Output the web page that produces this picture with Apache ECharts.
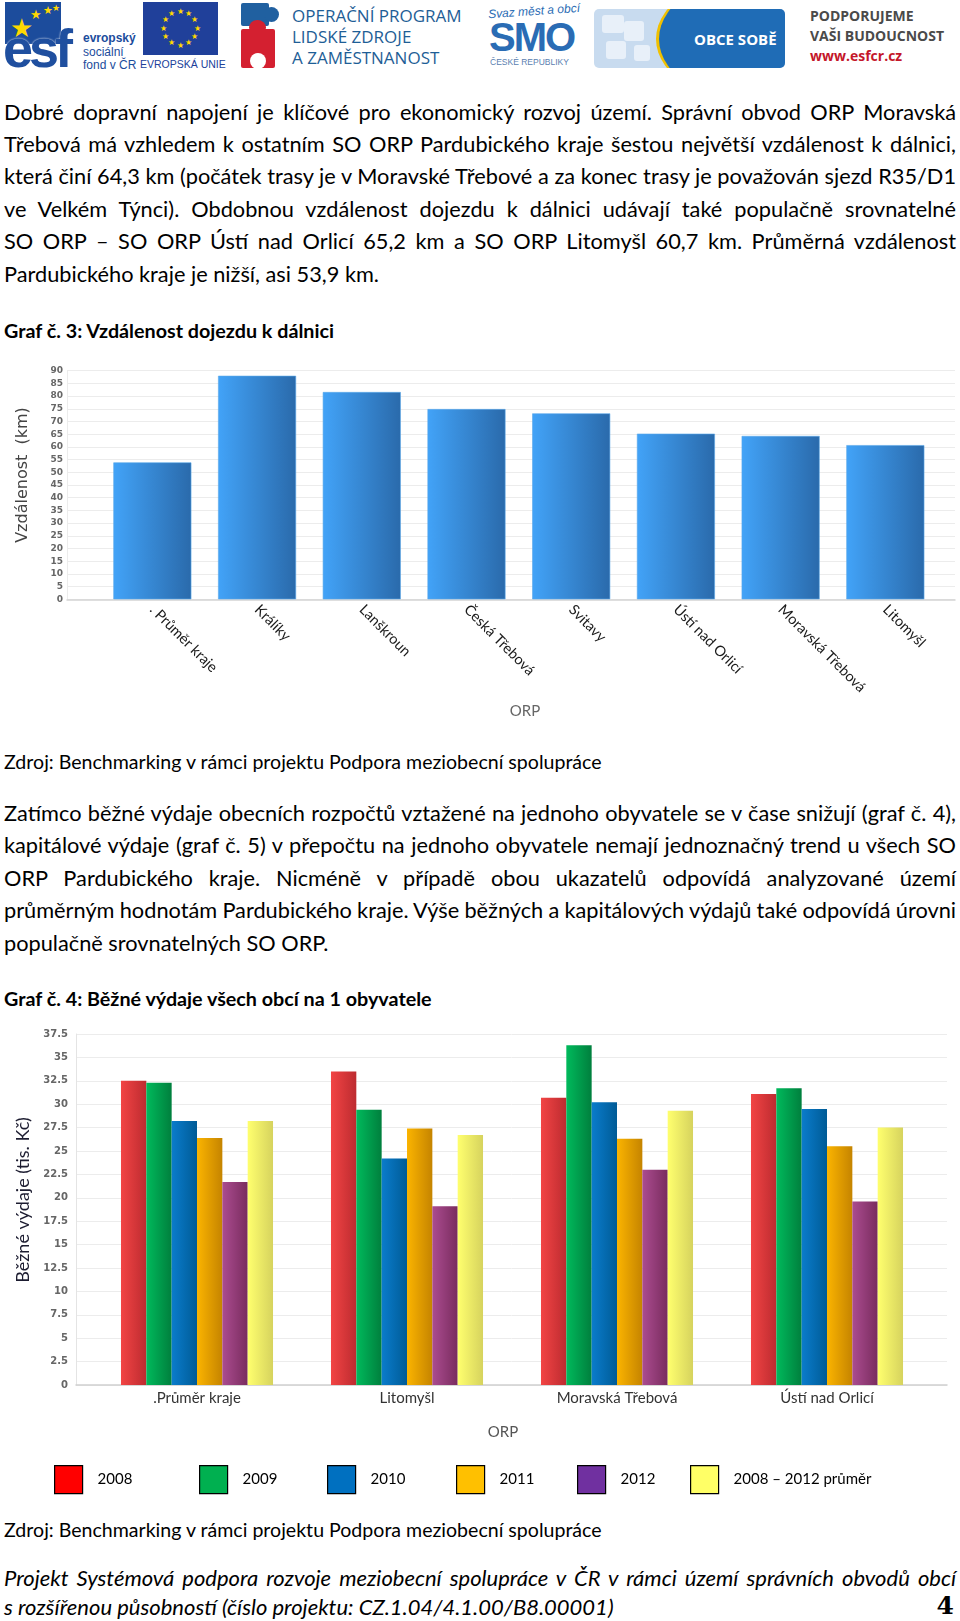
<!DOCTYPE html>
<html><head><meta charset="utf-8">
<script src="https://cdn.jsdelivr.net/npm/echarts@6/dist/echarts.min.js"></script>
<style>
html,body{margin:0;padding:0;background:#fff;}
body{width:960px;height:1621px;position:relative;overflow:hidden;font-family:Lato,"Open Sans",sans-serif;color:#000;}
.a{position:absolute;white-space:nowrap;}
.ln{position:absolute;left:4px;width:952px;height:26px;line-height:26px;white-space:nowrap;font-size:18px;}
.ln span{white-space:nowrap;}
.b{font-weight:bold;}
.it{font-style:italic;}
.star{position:absolute;color:#ffd800;line-height:1;}
</style></head>
<body>
<!-- header logos -->
<div id="hdr">
  <div class="a" style="left:5px;top:2px;width:56px;height:42px;background:#1c4c9c;"></div>
  <div class="star" style="left:10px;top:14px;font-size:26px;">★</div>
  <div class="star" style="left:30px;top:8px;font-size:13px;">★</div>
  <div class="star" style="left:43px;top:4px;font-size:11px;">★</div>
  <div class="star" style="left:52px;top:3px;font-size:9px;">★</div>
  <div class="a" style="left:3px;top:17px;font:bold 54px 'Liberation Sans',Arial,sans-serif;color:#1f4f9f;letter-spacing:-4px;text-shadow:0 0 2px #fff;">esf</div>
  <div class="a" style="left:83px;top:31px;font:bold 12px 'Liberation Sans',sans-serif;color:#1c4c9c;">evropský</div>
  <div class="a" style="left:83px;top:45px;font:12px 'Liberation Sans',sans-serif;color:#1c4c9c;">sociální</div>
  <div class="a" style="left:83px;top:58px;font:12px 'Liberation Sans',sans-serif;color:#1c4c9c;">fond v ČR</div>

  <div class="a" id="euflag" style="left:143px;top:2px;width:75px;height:53px;background:#20409a;"></div>
  <div class="a" style="left:140px;top:58px;width:82px;text-align:center;font:10.5px 'Liberation Sans',sans-serif;color:#20409a;">EVROPSKÁ UNIE</div>

  <div class="a" style="left:241px;top:3px;width:28px;height:23px;background:#2060a0;border-radius:2px;"></div>
  <div class="a" style="left:264px;top:7px;width:15px;height:15px;background:#2060a0;border-radius:50%;"></div>
  <div class="a" style="left:249px;top:20px;width:17px;height:15px;background:#d42030;border-radius:50%;"></div>
  <div class="a" style="left:241px;top:29px;width:34px;height:39px;background:#d42030;border-radius:2px;"></div>
  <div class="a" style="left:250px;top:53px;width:16px;height:16px;background:#fff;border-radius:50%;"></div>
  <div class="a" style="left:292px;top:5px;font:17px 'Open Sans',sans-serif;color:#1e5e96;line-height:21px;">OPERAČNÍ PROGRAM<br>LIDSKÉ ZDROJE<br>A ZAMĚSTNANOST</div>

  <div class="a" style="left:488px;top:4px;font:italic 12px 'Liberation Sans',sans-serif;color:#2a6cb4;transform:rotate(-4deg);">Svaz měst a obcí</div>
  <div class="a" style="left:489px;top:15px;font:900 40px 'Liberation Sans',sans-serif;color:#2a6cb4;letter-spacing:-2px;line-height:44px;">SMO</div>
  <div class="a" style="left:490px;top:57px;font:8.5px 'Liberation Sans',sans-serif;color:#5a80b0;">ČESKÉ REPUBLIKY</div>

  <div class="a" style="left:594px;top:9px;width:191px;height:59px;border-radius:5px;background:#c8dbef;overflow:hidden;">
    <div style="position:absolute;left:8px;top:6px;width:22px;height:18px;background:#e8f0f9;border-radius:3px;"></div>
    <div style="position:absolute;left:30px;top:12px;width:20px;height:20px;background:#e8f0f9;border-radius:3px;"></div>
    <div style="position:absolute;left:12px;top:32px;width:20px;height:18px;background:#e8f0f9;border-radius:3px;"></div>
    <div style="position:absolute;left:40px;top:36px;width:16px;height:16px;background:#e8f0f9;border-radius:3px;"></div>
    <div style="position:absolute;left:62px;top:-40px;width:240px;height:140px;border-radius:50%;background:#1f6cb6;border-left:3px solid #f0c000;"></div>
    <div style="position:absolute;left:100px;top:20px;font:bold 15px 'Open Sans',sans-serif;color:#fff;">OBCE SOBĚ</div>
  </div>

  <div class="a" style="left:810px;top:6px;font:bold 14px 'Open Sans',sans-serif;color:#4a4a4a;line-height:20px;">PODPORUJEME<br>VAŠI BUDOUCNOST<br><span style="color:#c4162a;">www.esfcr.cz</span></div>
</div>

<div id="txt"></div>
<div id="c1" style="position:absolute;left:0;top:345px;width:960px;height:385px;"></div>
<div id="c2" style="position:absolute;left:0;top:990px;width:960px;height:520px;"></div>

<script>
// ---------- data ----------
const cat1 = ['. Průměr kraje','Králíky','Lanškroun','Česká Třebová','Svitavy','Ústí nad Orlicí','Moravská Třebová','Litomyšl'];
const dist1 = [53.9, 88.0, 81.6, 74.9, 73.2, 65.2, 64.3, 60.7];
const y1Min = 0, y1Max = 90, y1Step = 5;

const cat2 = ['.Průměr kraje','Litomyšl','Moravská Třebová','Ústí nad Orlicí'];
const seriesNames2 = ['2008','2009','2010','2011','2012','2008 – 2012 průměr'];
const v2008 = [32.5, 33.5, 30.7, 31.1];
const v2009 = [32.3, 29.4, 36.3, 31.7];
const v2010 = [28.2, 24.2, 30.2, 29.5];
const v2011 = [26.4, 27.4, 26.3, 25.5];
const v2012 = [21.7, 19.1, 23.0, 19.6];
const vAvg  = [28.2, 26.7, 29.3, 27.5];
const y2Min = 0, y2Max = 37.5, y2Step = 2.5;

// ---------- text ----------
const para1 = [
 'Dobré dopravní napojení je klíčové pro ekonomický rozvoj území. Správní obvod ORP Moravská',
 'Třebová má vzhledem k ostatním SO ORP Pardubického kraje šestou největší vzdálenost k dálnici,',
 'která činí 64,3 km (počátek trasy je v Moravské Třebové a za konec trasy je považován sjezd R35/D1',
 've Velkém Týnci). Obdobnou vzdálenost dojezdu k dálnici udávají také populačně srovnatelné',
 'SO ORP – SO ORP Ústí nad Orlicí 65,2 km a SO ORP Litomyšl 60,7 km. Průměrná vzdálenost',
 'Pardubického kraje je nižší, asi 53,9 km.'
];
const para2 = [
 'Zatímco běžné výdaje obecních rozpočtů vztažené na jednoho obyvatele se v čase snižují (graf č. 4),',
 'kapitálové výdaje (graf č. 5) v přepočtu na jednoho obyvatele nemají jednoznačný trend u všech SO',
 'ORP Pardubického kraje. Nicméně v případě obou ukazatelů odpovídá analyzované území',
 'průměrným hodnotám Pardubického kraje. Výše běžných a kapitálových výdajů také odpovídá úrovni',
 'populačně srovnatelných SO ORP.'
];
const src = 'Zdroj: Benchmarking v rámci projektu Podpora meziobecní spolupráce';
const title3 = 'Graf č. 3: Vzdálenost dojezdu k dálnici';
const title4 = 'Graf č. 4: Běžné výdaje všech obcí na 1 obyvatele';
const foot1 = 'Projekt Systémová podpora rozvoje meziobecní spolupráce v ČR v rámci území správních obvodů obcí';
const foot2 = 's rozšířenou působností (číslo projektu: CZ.1.04/4.1.00/B8.00001)';

const txt = document.getElementById('txt');
function addLine(text, cy, cls, just){
  const d = document.createElement('div');
  d.className = 'ln ' + (cls||'') + (just ? ' j' : '');
  d.style.top = (cy - 13) + 'px';
  const s = document.createElement('span');
  s.textContent = text;
  d.appendChild(s);
  txt.appendChild(d);
  return d;
}
para1.forEach((t,i)=>addLine(t, 111.5 + i*32.45, 'body', i < para1.length-1));
const t3 = addLine(title3, 330.7, 'ttl b', false);
const s1 = addLine(src, 761.6, 'src', false);
para2.forEach((t,i)=>addLine(t, 813 + i*32.4, 'body', i < para2.length-1));
addLine(title4, 999.3, 'ttl b', false);
addLine(src, 1530, 'src', false);
addLine(foot1, 1578, 'foot it', true);
const f2 = addLine(foot2, 1607, 'foot it', false);
const pg = document.createElement('div');
pg.className='a'; pg.textContent='4';
pg.style.cssText='position:absolute;right:6px;top:1591px;font:bold 25px "DejaVu Serif","Liberation Serif",serif;';
txt.appendChild(pg);

// EU flag stars
const flag = document.getElementById('euflag');
for(let k=0;k<12;k++){
  const a = k*Math.PI/6;
  const st = document.createElement('div');
  st.className='star'; st.textContent='★'; st.style.fontSize='8px';
  st.style.left = (37.5 + 17*Math.sin(a) - 4) + 'px';
  st.style.top = (26 - 17*Math.cos(a) - 4.5) + 'px';
  flag.appendChild(st);
}

function fitClass(cls, refSpan, target){
  document.querySelectorAll('.'+cls).forEach(e=>e.style.fontSize = '18px');
  const w = refSpan.getBoundingClientRect().width;
  const nfs = 18*target/w;
  document.querySelectorAll('.'+cls).forEach(e=>e.style.fontSize = nfs+'px');
}
function layoutText(){
  const lines = txt.querySelectorAll('.ln.body');
  fitClass('body', lines[5].querySelector('span'), 375);
  fitClass('ttl', t3.querySelector('span'), 330);
  fitClass('src', s1.querySelector('span'), 598);
  fitClass('foot', f2.querySelector('span'), 610);
  txt.querySelectorAll('.j').forEach(el=>{
    const s = el.querySelector('span');
    s.style.wordSpacing = '0px';
    const nat = s.getBoundingClientRect().width;
    const n = (s.textContent.match(/[ \u00a0]/g)||[]).length;
    if(n) s.style.wordSpacing = ((952 - nat)/n) + 'px';
  });
}
layoutText();
if (document.fonts && document.fonts.ready) document.fonts.ready.then(layoutText);

// ---------- chart 1 ----------
const c1 = echarts.init(document.getElementById('c1'), null, {renderer:'canvas'});
const blueGrad = new echarts.graphic.LinearGradient(0,0,1,0,[{offset:0,color:'#42a3f8'},{offset:1,color:'#2a6aab'}]);
c1.setOption({
  animation:false,
  grid:[{left:67,right:5,top:25.7,height:228.6},{left:100,right:22.3,top:25.7,height:228.6}],
  xAxis:[
    {type:'value',gridIndex:0,min:0,max:1,axisLine:{show:true,lineStyle:{color:'#d4d4d4',width:1.5}},axisTick:{show:false},axisLabel:{show:false},splitLine:{show:false}},
    {type:'category',gridIndex:1,data:cat1,axisLine:{show:false},axisTick:{show:false},
     axisLabel:{rotate:-45,margin:8,fontSize:14.5,fontFamily:'Lato',color:'#1a1a1a',interval:0}}
  ],
  yAxis:[
    {type:'value',gridIndex:0,min:y1Min,max:y1Max,interval:y1Step,
     axisLine:{show:true,lineStyle:{color:'#ececec'}},axisTick:{show:false},
     axisLabel:{fontSize:9,fontWeight:'bold',color:'#666',fontFamily:'DejaVu Sans',margin:4},
     splitLine:{lineStyle:{color:'#ececec'}}},
    {type:'value',gridIndex:1,min:y1Min,max:y1Max,interval:y1Step,show:false}
  ],
  series:[{type:'bar',xAxisIndex:1,yAxisIndex:1,data:dist1,barWidth:78,
    itemStyle:{color:blueGrad,borderColor:'#5aa8ea',borderWidth:0.6}}],
  graphic:[
    {type:'text',x:23,y:130,rotation:Math.PI/2,style:{text:'Vzdálenost  (km)',font:'16px "DejaVu Sans"',fill:'#444',align:'center',verticalAlign:'middle'}},
    {type:'text',x:525,y:366,style:{text:'ORP',font:'15px Lato',fill:'#666',align:'center',verticalAlign:'middle'}}
  ]
});

// ---------- chart 2 ----------
const c2 = echarts.init(document.getElementById('c2'), null, {renderer:'canvas'});
const barCols = [['#f24444','#bd2b30'],['#00ba5c','#007f3d'],['#0a7ccc','#005b96'],['#fbb400','#c58400'],['#ab4c90','#792c5e'],['#ffff6e','#d6d35e']];
const legCols = ['#ff0000','#00b050','#0070c0','#ffc000','#7030a0','#ffff66'];
const vals2 = [v2008, v2009, v2010, v2011, v2012, vAvg];
const legLeft = [54, 199, 327, 456, 577, 690];
c2.setOption({
  animation:false,
  grid:[{left:76,right:13,top:44,height:351},{left:92,right:28,top:44,height:351}],
  xAxis:[
    {type:'value',gridIndex:0,min:0,max:1,axisLine:{show:true,lineStyle:{color:'#cfcfcf',width:1.5}},axisTick:{show:false},axisLabel:{show:false},splitLine:{show:false}},
    {type:'category',gridIndex:1,data:cat2,axisLine:{show:false},axisTick:{show:false},
     axisLabel:{margin:6,fontSize:15,fontFamily:'Lato',color:'#333',interval:0}}
  ],
  yAxis:[
    {type:'value',gridIndex:0,min:y2Min,max:y2Max,interval:y2Step,
     axisLine:{show:true,lineStyle:{color:'#e4e4e4'}},axisTick:{show:false},
     axisLabel:{fontSize:10,fontWeight:'bold',color:'#666',fontFamily:'DejaVu Sans',margin:8},
     splitLine:{lineStyle:{color:'#ececec'}}},
    {type:'value',gridIndex:1,min:y2Min,max:y2Max,interval:y2Step,show:false}
  ],
  legend: seriesNames2.map((n,i)=>({
    left:legLeft[i], top:475, padding:0, icon:'rect', itemWidth:28, itemHeight:28, selectedMode:false,
    data:[{name:n,itemStyle:{color:legCols[i],borderColor:'#000',borderWidth:1.2}}],
    textStyle:{fontSize:15,fontFamily:'Lato',color:'#000',padding:[16,0,0,10]}
  })),
  series: seriesNames2.map((n,i)=>({
    type:'bar',name:n,xAxisIndex:1,yAxisIndex:1,data:vals2[i],
    barGap:'0%',barCategoryGap:'27.6%',
    itemStyle:{color:new echarts.graphic.LinearGradient(0,0,1,0,[{offset:0,color:barCols[i][0]},{offset:1,color:barCols[i][1]}])}
  })),
  graphic:[
    {type:'text',x:23,y:210,rotation:Math.PI/2,style:{text:'Běžné výdaje (tis. Kč)',font:'18px Lato',fill:'#1c1c30',align:'center',verticalAlign:'middle'}},
    {type:'text',x:503,y:442,style:{text:'ORP',font:'15px Lato',fill:'#555',align:'center',verticalAlign:'middle'}}
  ]
});
</script>
</body></html>
